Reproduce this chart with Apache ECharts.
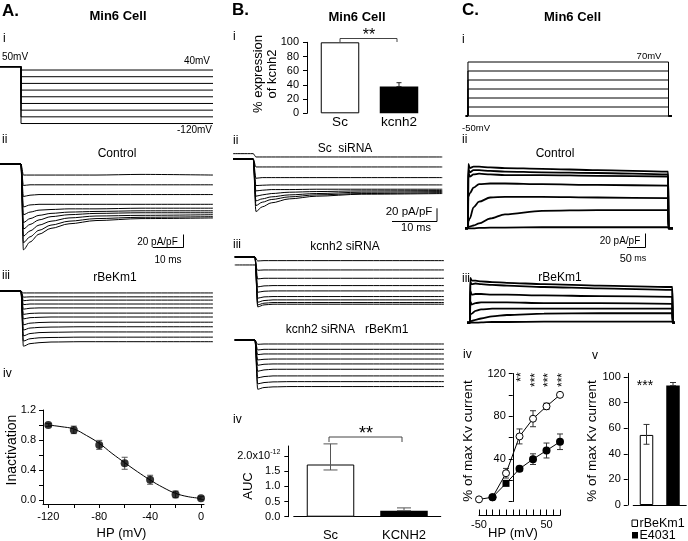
<!DOCTYPE html>
<html><head><meta charset="utf-8">
<script src="https://cdn.jsdelivr.net/npm/echarts@6/dist/echarts.min.js"></script>
<style>html,body{margin:0;padding:0;background:#fff}#c{width:688px;height:541px}</style>
</head><body><div id="c"></div>
<script>
// ================= DATA =================
// A.i voltage protocol (mV)
const aHold = 50;
const aSteps = [40, 20, 0, -20, -40, -60, -80, -100, -120];
const aProtoT = [-7, 0, 64];              // start, step-on, end (ms)
// A.ii Control traces (pA/pF) sampled at aTraceT (ms)
const aTraceT = [-7, -0.01, 0.8, 3, 6, 10, 16, 25, 40, 64];
const aCtl = [
  [0,0,-17,-17,-17,-17,-17,-17,-16,-17],
  [0,0,-33,-32,-32,-32,-32,-32,-32,-32],
  [0,0,-50,-48,-47,-47,-47,-47,-47,-47],
  [0,0,-66,-63,-62,-62,-62,-62,-62,-62],
  [0,0,-78,-74,-71,-70,-69,-69,-68,-68],
  [0,0,-90,-84,-79,-76,-74,-73,-72,-72],
  [0,0,-100,-93,-86,-81,-78,-76,-75,-75],
  [0,0,-111,-103,-94,-88,-83,-80,-79,-78],
  [0,0,-121,-112,-102,-94,-88,-84,-82,-81],
  [0,0,-132,-120,-108,-99,-92,-87,-84,-83]
];
// A.iii rBeKm1 traces
const aBekT = [-7, -0.01, 0.8, 3, 6, 10, 20, 40, 64];
const aBek = [
  [0,0,-3,-3,-3,-3,-3,-3,-3],
  [0,0,-9.5,-9,-9,-9,-9,-9,-9],
  [0,0,-15,-14,-14,-14,-14,-14,-14],
  [0,0,-21,-20,-20,-20,-20,-20,-20],
  [0,0,-28,-26.5,-26,-26,-26,-26,-26],
  [0,0,-36,-34.5,-34,-34,-34,-34,-34],
  [0,0,-43,-41,-40.5,-40,-40,-40,-40],
  [0,0,-52,-49.5,-48.5,-48,-48,-48,-48],
  [0,0,-60,-57,-56,-55.5,-55,-55,-55],
  [0,0,-69,-65.5,-64,-63.5,-63,-63,-63],
  [0,0,-77,-73.5,-72,-71.5,-71,-71,-71],
  [0,0,-85,-81,-79.5,-78.5,-78,-78,-78]
];
// A.iv steady-state inactivation
const aivHP = [-120, -100, -80, -60, -40, -20, 0];
const aivMean = [1.0, 0.935, 0.735, 0.49, 0.27, 0.075, 0.025];
const aivErr = [0.02, 0.05, 0.06, 0.08, 0.06, 0.045, 0.02];
const aivFitHP = [-120,-110,-100,-90,-80,-70,-60,-50,-40,-30,-20,-10,0];
const aivFit = [1.0,0.978,0.947,0.86,0.756,0.622,0.498,0.378,0.267,0.169,0.089,0.044,0.022];
const aivXTicks = [-120,-100,-80,-60,-40,-20,0];
const aivXLabels = [-120,-80,-40,0];
const aivYTicks = [0,0.2,0.4,0.6,0.8,1.0,1.2];
const aivYLabels = [0,0.4,0.8,1.2];

// B.i kcnh2 expression
const biCats = ['Sc', 'kcnh2'];
const biVals = [100, 37.6];
const biErr = [0, 5.5];
const biTicks = [0,20,40,60,80,100];
// B.ii / B.iii traces
const bTraceT = [-4.5, -0.01, 0.6, 2, 4, 8, 14, 24, 42];
const bSc = [
  [8,8,3,3,3,3,3,3,3],
  [0,0,-12,-12,-12,-12,-12,-12,-12],
  [0,0,-29,-28,-28,-28,-28,-28,-28],
  [0,0,-40,-39.5,-39,-39,-39,-39,-39],
  [0,0,-48,-47,-46,-46,-45.5,-45.5,-45.5],
  [0,0,-56,-54,-52,-50,-49,-48,-47.5],
  [0,0,-63,-60,-57,-54,-52,-50,-49],
  [0,0,-70,-65,-61,-57,-54,-52,-50.5],
  [0,0,-79,-72,-66,-60,-56,-53,-52]
];
const bKc = [
  [0,0,-6,-5.5,-5.5,-5.5,-5.5,-5.5,-5.5],
  [-12,-12,-20,-19.5,-19.5,-19.5,-19.5,-19.5,-19.5],
  [0,0,-33,-32,-32,-32,-32,-32,-32],
  [0,0,-45,-43.5,-43,-43,-43,-43,-43],
  [0,0,-53,-51.5,-51,-51,-51,-51,-51],
  [0,0,-62,-60,-59.5,-59.5,-59.5,-59.5,-59.5],
  [0,0,-68,-65.5,-64.5,-64.5,-64.5,-64.5,-64.5],
  [0,0,-72,-69.5,-68.5,-68.5,-68.5,-68.5,-68.5],
  [0,0,-75,-72,-71,-71,-71,-71,-71]
];
const bKcBek = [
  [0,0,-6.5,-6,-6,-6,-6,-6,-6],
  [0,0,-15,-14,-14,-14,-14,-14,-14],
  [0,0,-22,-21,-21,-21,-21,-21,-21],
  [0,0,-30,-29,-28.6,-28.6,-28.6,-28.6,-28.6],
  [0,0,-38,-36.5,-36,-36,-36,-36,-36],
  [0,0,-47,-45,-44,-44,-44,-44,-44],
  [0,0,-57,-55,-54,-54,-54,-54,-54],
  [0,0,-66,-64,-63,-62.6,-62.6,-62.6,-62.6],
  [0,0,-74,-71.5,-70.5,-70,-70,-70,-70]
];
// B.iv AUC
const bivCats = ['Sc', 'KCNH2'];
const bivVals = [1.72, 0.2];
const bivLow = [1.54, 0.2];
const bivHigh = [2.4, 0.29];
const bivTicks = [0, 0.5, 1.0, 1.5, 2.0];

// C.i voltage protocol
const cHold = -50;
const cSteps = [70, 50, 30, 10, -10, -30, -50];
const cProtoT = [-6, 0, 542, 551];
// C.ii Control Kv traces
const cTraceT = [-8, 0, 1, 5, 15, 30, 60, 100, 200, 350, 541, 542, 554];
const cCtl = [
  [0,0,92,86,88,88,87,86,85,83,81,0,0],
  [0,0,85,80,83,83,82,81,80,79,77,0,0],
  [0,0,80,74,77,78,77,76,76,75,74,0,0],
  [0,0,45,50,58,63,64,64,63,62,61,0,0],
  [0,0,10,14,30,38,44,45,45,44,43,0,0],
  [0,0,2,2.5,4,7,14,20,25,26,26,0,0],
  [0,0,0,0,0,0.5,1,1,1.5,1.5,1.5,0,0]
];
// C.iii rBeKm1 Kv traces
const cBekT = [-8, 0, 1, 5, 15, 30, 60, 100, 200, 350, 547, 548, 554];
const cBek = [
  [0,0,64,60,60,59,58,57,55,53,51,0,0],
  [0,0,58,55,56,55,54,53,51,49,47,0,0],
  [0,0,45,40,41,41,40,40,39,38,37,0,0],
  [0,0,30,26,28,29,29,29,28,28,27,0,0],
  [0,0,12,13,17,19,20,20,20,20,20,0,0],
  [0,0,2,2.5,4,6,9,11,13,13.5,13.5,0,0],
  [0,0,0,0,0,0.5,1,1,1.5,1.5,1.5,0,0]
];
// C.iv activation
const civHP = [-50, -30, -10, 10, 30, 50, 70];
const civOpen = [2, 4, 26.5, 61, 77.6, 89.2, 100];
const civOpenErr = [0, 0, 4.5, 7, 7.5, 3, 0];
const civFilled = [null, 4, 17, 30.6, 39.7, 47.8, 56];
const civFilledErr = [0, 0, 0, 2.4, 5, 7, 7.3];
const civXTicks = [-50,-40,-30,-20,-10,0,10,20,30,40,50,60,70];
const civXLabels = [-50, 50];
const civYTicks = [0,20,40,60,80,100,120];
const civYLabels = [40,80,120];
// C.v
const cvCats = ['rBeKm1', 'E4031'];
const cvVals = [54.8, 93.4];
const cvLow = [47.5, 93.4];
const cvHigh = [63, 95.8];
const cvTicks = [0,20,40,60,80,100];

// ================= CHART =================
const FONT = '"Liberation Sans", Arial, Helvetica, sans-serif';
const chart = echarts.init(document.getElementById('c'), null, {renderer: 'canvas'});
const grids = [], xAxes = [], yAxes = [], series = [];
function addGrid(g, xa, ya) {
  grids.push(Object.assign({containLabel: false, outerBoundsMode: 'none'}, g));
  const gi = grids.length - 1;
  xAxes.push(Object.assign({gridIndex: gi}, xa));
  yAxes.push(Object.assign({gridIndex: gi}, ya));
  return gi;
}
const hid = (min, max) => ({type: 'value', show: false, min, max, splitLine: {show: false}});
const blk = {color: '#000', width: 1};

function traceSeries(gi, times, rows, width) {
  rows.forEach(r => series.push({
    type: 'line', xAxisIndex: gi, yAxisIndex: gi, silent: true,
    data: r.map((v, i) => [times[i], v]), symbol: 'none',
    smooth: 0.3, smoothMonotone: 'x',
    lineStyle: {color: '#000', width: width}
  }));
}
function protoSeries(gi, times, hold, steps, withOff) {
  steps.forEach(v => {
    const d = [[times[0], hold], [times[1], hold], [times[1], v], [times[2], v]];
    if (withOff) { d.push([times[2], hold]); d.push([times[3], hold]); }
    series.push({type: 'line', xAxisIndex: gi, yAxisIndex: gi, silent: true, data: d,
      symbol: 'none', lineStyle: {color: '#000', width: 1}});
  });
}
function errSeries(gi, pts, capW, color, z) {
  series.push({
    type: 'custom', xAxisIndex: gi, yAxisIndex: gi, silent: true, z: z || 3, data: pts,
    renderItem(params, api) {
      const x = api.value(0), lo = api.value(1), hi = api.value(2);
      const p1 = api.coord([x, hi]), p2 = api.coord([x, lo]);
      const h = capW / 2, st = {stroke: color, lineWidth: 1};
      return {type: 'group', children: [
        {type: 'line', shape: {x1: p1[0], y1: p1[1], x2: p2[0], y2: p2[1]}, style: st},
        {type: 'line', shape: {x1: p1[0]-h, y1: p1[1], x2: p1[0]+h, y2: p1[1]}, style: st},
        {type: 'line', shape: {x1: p2[0]-h, y1: p2[1], x2: p2[0]+h, y2: p2[1]}, style: st}
      ]};
    }
  });
}

// ---- A ----
const gA1 = addGrid({left: 0, top: 65, width: 213, height: 60.2}, hid(-7, 64), hid(-125, 55));
protoSeries(gA1, aProtoT, aHold, aSteps, false);
const gA2 = addGrid({left: 0, top: 151, width: 213, height: 104}, hid(-7, 64), hid(-140, 20));
traceSeries(gA2, aTraceT, aCtl, 1);
const gA3 = addGrid({left: 0, top: 284.5, width: 213, height: 61.75}, hid(-7, 64), hid(-85, 10));
traceSeries(gA3, aBekT, aBek, 1);

const gA4 = addGrid({left: 43, top: 410, width: 161, height: 94},
  {type: 'value', min: -124.2, max: 2.36, axisLine: {show: true, onZero: false, lineStyle: blk},
   axisTick: {show: true, length: 4, customValues: aivXTicks, lineStyle: blk},
   axisLabel: {customValues: aivXLabels, color: '#000', fontSize: 11, fontFamily: FONT, margin: 7},
   splitLine: {show: false}},
  {type: 'value', min: -0.053, max: 1.2, axisLine: {show: true, onZero: false, lineStyle: blk},
   axisTick: {show: true, length: 4, customValues: aivYTicks, lineStyle: blk},
   axisLabel: {customValues: aivYLabels, color: '#000', fontSize: 11, fontFamily: FONT, margin: 7,
     formatter: v => v.toFixed(1)},
   splitLine: {show: false}});
series.push({type: 'line', xAxisIndex: gA4, yAxisIndex: gA4, silent: true, symbol: 'none', smooth: 0.4,
  data: aivFitHP.map((x, i) => [x, aivFit[i]]), lineStyle: {color: '#000', width: 1}, z: 2});
errSeries(gA4, aivHP.map((x, i) => [x, aivMean[i]-aivErr[i], aivMean[i]+aivErr[i]]), 6, '#555', 3);
series.push({type: 'scatter', xAxisIndex: gA4, yAxisIndex: gA4, silent: true, symbolSize: 8, z: 5,
  data: aivHP.map((x, i) => [x, aivMean[i]]), itemStyle: {color: '#000'}});

// ---- B ----
const gB1 = addGrid({left: 310.5, top: 42.3, width: 118, height: 71},
  {type: 'category', data: biCats, axisLine: {show: false}, axisTick: {show: false},
   axisLabel: {color: '#000', fontSize: 13.5, fontFamily: FONT, margin: 2}},
  {type: 'value', min: 0, max: 100, offset: 3.5, axisLine: {show: true, lineStyle: blk},
   axisTick: {show: true, length: 4, customValues: biTicks, lineStyle: blk},
   axisLabel: {customValues: biTicks, color: '#000', fontSize: 11, fontFamily: FONT, margin: 8},
   splitLine: {show: false}});
series.push({type: 'bar', xAxisIndex: gB1, yAxisIndex: gB1, silent: true, barWidth: 38.5, z: 2,
  data: biVals.map((v, i) => ({value: v, itemStyle: i === 0 ? {color: '#fff', borderColor: '#000', borderWidth: 1} : {color: '#000'}}))});
errSeries(gB1, biVals.map((v, i) => [i, v, v + biErr[i]]).filter((d, i) => biErr[i] > 0), 5, '#222', 3);

const gB2 = addGrid({left: 233, top: 149, width: 209.25, height: 66.5}, hid(-4.5, 42), hid(-85, 15));
traceSeries(gB2, bTraceT, bSc, 1);
const gB3 = addGrid({left: 234.75, top: 247, width: 209.25, height: 63.2}, hid(-4.5, 42), hid(-80, 15));
traceSeries(gB3, bTraceT, bKc, 1);
const gB4 = addGrid({left: 234.75, top: 333.35, width: 209.25, height: 59.85}, hid(-4.5, 42), hid(-80, 10));
traceSeries(gB4, bTraceT, bKcBek, 1);

const gB5 = addGrid({left: 293.75, top: 446, width: 147, height: 70.7},
  {type: 'category', data: bivCats, axisLine: {show: true, lineStyle: blk}, axisTick: {show: false},
   axisLabel: {color: '#000', fontSize: 13, fontFamily: FONT, margin: 12.5}},
  {type: 'value', min: 0, max: 2.33, offset: 5.45, axisLine: {show: true, lineStyle: blk},
   axisTick: {show: true, length: 4, customValues: bivTicks, lineStyle: blk},
   axisLabel: {customValues: bivTicks, color: '#000', fontSize: 11, fontFamily: FONT, margin: 8,
     formatter: v => Math.abs(v - 2) < 1e-9 ? '{a|2.0x10}{s|-12}' : v.toFixed(1),
     rich: {a: {fontSize: 11, fontFamily: FONT, color: '#000'},
            s: {fontSize: 7, fontFamily: FONT, color: '#000', verticalAlign: 'top', padding: [0, 0, 7, 0]}}},
   splitLine: {show: false}});
series.push({type: 'bar', xAxisIndex: gB5, yAxisIndex: gB5, silent: true, barWidth: 47.5, z: 2,
  data: bivVals.map((v, i) => ({value: v, itemStyle: i === 0 ? {color: '#fff', borderColor: '#000', borderWidth: 1} : {color: '#000'}}))});
errSeries(gB5, bivVals.map((v, i) => [i, bivLow[i], bivHigh[i]]), 14, '#555', 3);

// ---- C ----
const gC1 = addGrid({left: 465, top: 59.75, width: 207.94, height: 58.5}, hid(-8, 554), hid(-55, 75));
protoSeries(gC1, cProtoT, cHold, cSteps, true);
const gC2 = addGrid({left: 465, top: 161.8, width: 207.94, height: 77}, hid(-8, 554), hid(-15, 95));
traceSeries(gC2, cTraceT, cCtl, 1.8);
const gC3 = addGrid({left: 467, top: 273.7, width: 207.94, height: 59.5}, hid(-8, 554), hid(-15, 70));
traceSeries(gC3, cBekT, cBek, 1.8);

// y axis sits at HP = 0 mV (50 mV right of the grid's left edge: 50 * 81/120 px)
const gC4 = addGrid({left: 479, top: 373.5, width: 81, height: 128},
  {type: 'value', min: -50, max: 70, offset: 14, axisLine: {show: true, onZero: false, lineStyle: blk},
   axisTick: {show: true, inside: true, length: 6, customValues: civXTicks, lineStyle: blk},
   axisLabel: {customValues: civXLabels, color: '#000', fontSize: 11, fontFamily: FONT, margin: 4},
   splitLine: {show: false}},
  {type: 'value', min: 0, max: 120, offset: -33.75, axisLine: {show: true, onZero: false, lineStyle: blk},
   axisTick: {show: true, length: 4, customValues: civYTicks, lineStyle: blk},
   axisLabel: {customValues: civYLabels, color: '#000', fontSize: 11, fontFamily: FONT, margin: 7},
   splitLine: {show: false}});
errSeries(gC4, civHP.map((x, i) => [x, civOpen[i]-civOpenErr[i], civOpen[i]+civOpenErr[i]]).filter((d, i) => civOpenErr[i] > 0), 6, '#333', 3);
errSeries(gC4, civHP.map((x, i) => [x, civFilled[i]-civFilledErr[i], civFilled[i]+civFilledErr[i]]).filter((d, i) => civFilledErr[i] > 0), 6, '#333', 3);
series.push({type: 'line', xAxisIndex: gC4, yAxisIndex: gC4, silent: true, z: 4,
  data: civHP.map((x, i) => [x, civOpen[i]]), symbol: 'circle', symbolSize: 7,
  itemStyle: {color: '#fff', borderColor: '#000', borderWidth: 1}, lineStyle: {color: '#000', width: 1}});
series.push({type: 'line', xAxisIndex: gC4, yAxisIndex: gC4, silent: true, z: 5,
  data: civHP.map((x, i) => civFilled[i] === null ? null : (x === -10 ? {value: [x, civFilled[i]], symbol: 'rect', symbolSize: 7} : [x, civFilled[i]])).filter(d => d !== null),
  symbol: 'circle', symbolSize: 8, itemStyle: {color: '#000'}, lineStyle: {color: '#000', width: 1}});

const gC5 = addGrid({left: 633.25, top: 373.3, width: 53, height: 131.7},
  {type: 'category', data: cvCats, axisLine: {show: true, lineStyle: blk}, axisTick: {show: false},
   axisLabel: {show: false}},
  {type: 'value', min: 0, max: 103, offset: 5.5, axisLine: {show: true, lineStyle: blk},
   axisTick: {show: true, length: 4, customValues: cvTicks, lineStyle: blk},
   axisLabel: {customValues: cvTicks, color: '#000', fontSize: 11, fontFamily: FONT, margin: 7},
   splitLine: {show: false}});
series.push({type: 'bar', xAxisIndex: gC5, yAxisIndex: gC5, silent: true, barWidth: 13.5, z: 2,
  data: cvVals.map((v, i) => ({value: v, itemStyle: i === 0 ? {color: '#fff', borderColor: '#000', borderWidth: 1} : {color: '#000'}}))});
errSeries(gC5, cvVals.map((v, i) => [i, cvLow[i], cvHigh[i]]), 6, '#333', 3);

// ---- annotations ----
function T(text, x, y, size, o) {
  o = o || {};
  return {type: 'text', x, y, rotation: o.rot ? Math.PI / 2 : 0, silent: true, z: 10,
    style: {text, x: 0, y: 0, fill: '#000', font: (o.bold ? 'bold ' : '') + size + 'px ' + FONT,
      align: o.align || 'center', verticalAlign: 'middle', lineHeight: o.lh || undefined}};
}
function P(points, color) {
  return {type: 'polyline', silent: true, z: 10, shape: {points}, style: {stroke: color || '#000', fill: null, lineWidth: 1}};
}
const graphic = [
  // A
  T('A.', 2, 11, 17, {bold: 1, align: 'left'}), T('Min6 Cell', 118, 16.5, 13, {bold: 1}),
  T('i', 3, 39, 12, {align: 'left'}), T('50mV', 2, 57, 10, {align: 'left'}),
  T('40mV', 210, 61, 10, {align: 'right'}), T('-120mV', 212, 130, 10, {align: 'right'}),
  T('ii', 2, 140, 12, {align: 'left'}), T('Control', 117, 154, 12),
  T('20 pA/pF', 157.5, 242, 10), T('10 ms', 168, 260, 10),
  P([[152.7, 247.5], [183.5, 247.5], [183.5, 234.5]]),
  T('iii', 2, 275.5, 12, {align: 'left'}), T('rBeKm1', 115, 278, 12),
  T('iv', 3, 374, 12, {align: 'left'}),
  T('Inactivation', 12, 450, 14, {rot: 1}), T('HP (mV)', 121.5, 533, 13),
  // B
  T('B.', 232, 10, 17, {bold: 1, align: 'left'}), T('Min6 Cell', 357, 17, 13, {bold: 1}),
  T('i', 233, 37, 12, {align: 'left'}),
  T('% expression\nof kcnh2', 265, 74, 13, {rot: 1, lh: 14}),
  P([[340, 42], [340, 38.5], [397, 38.5], [397, 42]], '#444'), T('**', 369, 35.5, 16),
  T('ii', 233, 141, 12, {align: 'left'}), T('Sc  siRNA', 345, 149, 12),
  T('20 pA/pF', 409, 212, 11.5), T('10 ms', 416, 227.5, 11),
  P([[392, 221.5], [437, 221.5], [437, 208.3]]),
  T('iii', 233, 245, 12, {align: 'left'}), T('kcnh2 siRNA', 345, 247, 12),
  T('kcnh2 siRNA   rBeKm1', 347, 330, 12),
  T('iv', 233, 420, 12, {align: 'left'}), T('AUC', 248, 486, 13, {rot: 1}),
  P([[329, 442], [329, 437], [402, 437], [402, 442]], '#444'), T('**', 366, 434, 18),
  // C
  T('C.', 462, 10, 17, {bold: 1, align: 'left'}), T('Min6 Cell', 572.5, 17, 13, {bold: 1}),
  T('i', 462, 40, 12, {align: 'left'}), T('70mV', 649, 56, 9.5), T('-50mV', 476, 128, 9.5),
  T('ii', 462, 140, 12, {align: 'left'}), T('Control', 555, 154, 12),
  T('20 pA/pF', 620, 241, 10),
  {type: 'text', x: 633, y: 259, silent: true, z: 10, style: {text: '{a|50}{b| ms}', x: 0, y: 0, align: 'center', verticalAlign: 'middle',
    rich: {a: {fontSize: 11, fontFamily: FONT, fill: '#000'}, b: {fontSize: 9, fontFamily: FONT, fill: '#000'}}}},
  P([[627, 247.5], [645.5, 247.5], [645.5, 233.5]]),
  T('iii', 462, 279, 12, {align: 'left'}), T('rBeKm1', 560, 278, 12),
  T('iv', 463, 355, 12, {align: 'left'}), T('v', 592, 355.5, 12, {align: 'left'}),
  T('% of max Kv current', 468, 441, 13.5, {rot: 1}), T('HP (mV)', 513, 533, 13),
  T('% of max Kv current', 592.5, 441, 13.5, {rot: 1}),
  T('**', 522, 377, 12, {rot: 1}), T('***', 535.5, 380, 12, {rot: 1}),
  T('***', 549, 380, 12, {rot: 1}), T('***', 562.5, 380, 12, {rot: 1}),
  T('***', 645, 386, 14),
  {type: 'rect', silent: true, z: 10, shape: {x: 632, y: 520, width: 5.5, height: 6.5}, style: {fill: '#fff', stroke: '#000', lineWidth: 1}},
  T('rBeKm1', 639.5, 524, 12.5, {align: 'left'}),
  {type: 'rect', silent: true, z: 10, shape: {x: 632, y: 532, width: 6, height: 6.5}, style: {fill: '#000'}},
  T('E4031', 639.5, 536, 12.5, {align: 'left'})
];

chart.setOption({
  animation: false,
  backgroundColor: '#fff',
  textStyle: {fontFamily: FONT, color: '#000'},
  grid: grids, xAxis: xAxes, yAxis: yAxes, series: series, graphic: graphic
});
</script></body></html>
